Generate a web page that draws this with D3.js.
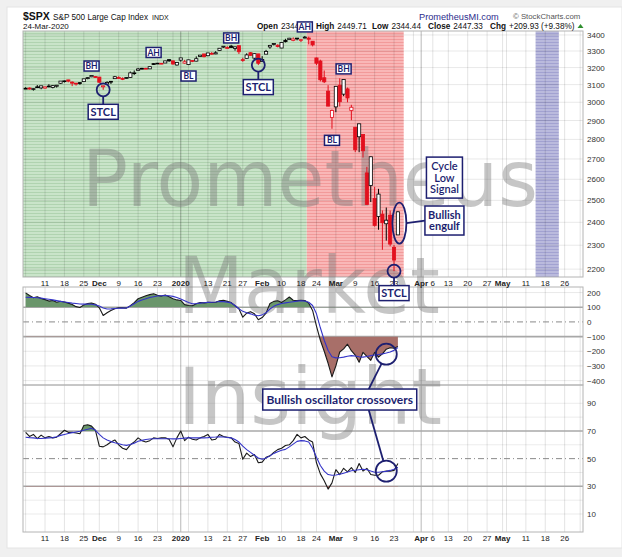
<!DOCTYPE html>
<html>
<head>
<meta charset="utf-8">
<script src="https://cdn.jsdelivr.net/npm/d3@7"></script>
<style>
  html, body { margin: 0; padding: 0; background: #f0f0f0; }
  svg { display: block; font-family: "Liberation Sans", Arial, sans-serif; }
</style>
</head>
<body>
<svg id="chart" width="622" height="557"></svg>
<script>
// ----- Calendar
const firstDay = "2019-11-04";
const axisEnd = "2020-06-01";
const holidays = ["2019-11-28", "2019-12-25", "2020-01-01", "2020-01-20",
                  "2020-02-17", "2020-04-10", "2020-05-25"];

// ----- $SPX daily bars, Nov 4 2019 .. Mar 24 2020
const open = [
  3078.96, 3080.80, 3075.10, 3087.02, 3081.25, 3080.33, 3089.28, 3084.18, 3090.75, 3107.92,
  3117.91, 3127.45, 3114.66, 3108.49, 3111.41, 3117.44, 3134.85, 3145.49, 3147.18,
  3143.85, 3087.41, 3103.50, 3119.21, 3134.62, 3141.86, 3135.36, 3135.75, 3141.23, 3166.65,
  3183.63, 3195.40, 3195.21, 3192.32, 3223.33, 3226.05, 3225.45, 3227.20, 3247.23, 3240.09, 3215.18,
  3244.67, 3226.36, 3217.55, 3241.86, 3238.59, 3266.03, 3281.81, 3271.13, 3285.35, 3282.27,
  3302.97, 3323.66, 3321.03, 3330.02, 3315.77, 3333.10, 3247.16, 3255.35, 3289.46, 3256.45, 3282.33,
  3235.66, 3280.61, 3324.91, 3344.92, 3335.54, 3318.28, 3365.87, 3370.50, 3365.90, 3378.08,
  3369.04, 3380.39, 3380.45, 3360.50, 3257.61, 3238.94, 3139.90, 3062.54, 2916.90,
  2974.28, 3096.46, 3045.75, 3075.70, 2954.20, 2863.89, 2813.48, 2825.60, 2630.86, 2569.99,
  2508.59, 2425.66, 2436.50, 2393.48, 2431.94, 2290.71, 2344.44
];
const high = [
  3085.20, 3083.95, 3078.34, 3097.77, 3093.09, 3088.33, 3102.61, 3098.06, 3098.20, 3120.46,
  3124.17, 3127.64, 3118.97, 3110.11, 3112.87, 3133.83, 3142.69, 3154.26, 3150.30,
  3144.31, 3094.97, 3119.38, 3119.45, 3150.60, 3148.87, 3142.12, 3143.98, 3176.28, 3182.68,
  3197.71, 3198.22, 3198.48, 3205.48, 3225.65, 3227.78, 3226.43, 3240.08, 3247.93, 3240.92, 3231.72,
  3258.14, 3246.15, 3246.84, 3244.91, 3267.07, 3275.58, 3282.99, 3288.13, 3294.25, 3298.66,
  3317.11, 3329.88, 3329.79, 3337.77, 3326.88, 3333.18, 3258.85, 3285.78, 3293.47, 3285.91, 3282.33,
  3268.44, 3306.92, 3337.58, 3347.96, 3341.42, 3352.26, 3375.63, 3381.47, 3385.09, 3380.69,
  3375.01, 3393.52, 3389.15, 3360.76, 3259.81, 3246.99, 3182.51, 3097.07, 2959.72,
  3090.96, 3136.72, 3130.97, 3083.04, 2985.93, 2863.89, 2882.59, 2825.60, 2660.95, 2711.33,
  2562.98, 2553.93, 2453.57, 2466.97, 2453.01, 2300.73, 2449.71
];
const low = [
  3074.87, 3072.15, 3065.89, 3080.23, 3073.58, 3075.82, 3084.73, 3078.80, 3083.26, 3104.60,
  3112.06, 3113.47, 3091.41, 3094.55, 3099.26, 3117.44, 3131.00, 3143.41, 3139.34,
  3110.78, 3070.33, 3102.53, 3103.76, 3134.62, 3135.46, 3126.09, 3133.21, 3138.47, 3156.51,
  3183.63, 3191.03, 3191.14, 3192.32, 3216.03, 3222.30, 3220.51, 3227.20, 3234.37, 3216.57, 3212.03,
  3235.53, 3222.34, 3214.64, 3232.43, 3236.67, 3263.67, 3260.86, 3268.43, 3277.19, 3280.69,
  3302.82, 3318.86, 3316.61, 3320.04, 3301.87, 3281.53, 3234.50, 3253.22, 3271.89, 3242.80, 3214.68,
  3235.66, 3280.61, 3313.75, 3334.39, 3322.12, 3317.77, 3352.72, 3369.72, 3360.52, 3366.15,
  3355.61, 3378.83, 3341.02, 3328.45, 3214.65, 3118.77, 3108.99, 2977.39, 2855.84,
  2945.19, 2976.63, 3034.38, 2999.83, 2901.54, 2734.43, 2734.00, 2707.22, 2478.86, 2492.37,
  2380.94, 2367.04, 2280.52, 2319.78, 2295.56, 2191.86, 2344.44
];
const close = [
  3078.27, 3074.62, 3076.78, 3085.18, 3093.08, 3087.01, 3091.84, 3094.04, 3096.63, 3120.46,
  3122.03, 3120.18, 3108.46, 3103.54, 3110.29, 3133.64, 3140.52, 3153.63, 3140.98,
  3113.87, 3093.20, 3112.76, 3117.43, 3145.91, 3135.96, 3132.52, 3141.63, 3168.57, 3168.80,
  3191.45, 3192.52, 3191.14, 3205.37, 3221.22, 3224.01, 3223.38, 3239.91, 3240.02, 3221.29, 3230.78,
  3257.85, 3234.85, 3246.28, 3237.18, 3253.05, 3274.70, 3265.35, 3288.13, 3283.15, 3289.29,
  3316.81, 3329.62, 3320.79, 3321.75, 3325.54, 3295.47, 3243.63, 3276.24, 3273.40, 3283.66, 3225.52,
  3248.92, 3297.59, 3334.69, 3345.78, 3327.71, 3352.09, 3357.75, 3379.45, 3373.94, 3380.16,
  3370.29, 3386.15, 3373.23, 3337.75, 3225.89, 3128.21, 3116.39, 2978.76, 2954.22,
  3090.23, 3003.37, 3130.12, 3023.94, 2972.37, 2746.56, 2882.23, 2741.38, 2480.64, 2711.02,
  2386.13, 2529.19, 2398.10, 2409.39, 2304.92, 2237.40, 2447.33
];
const prevClose = 3066.91; // Nov 1 close

// ----- Middle panel oscillator (black) and its average (blue)
const cci = [
  198, 180, 165, 172, 160,
  152, 142, 146, 134, 141, 136, 128, 118, 104, 98,
  116, 125, 129, 121, 96, 44, 62, 78, 90, 97,
  96, 94, 110, 132, 158, 168, 178, 186, 192, 182,
  176, 184, 172, 158, 150, 146, 118, 112, 110, 124,
  132, 130, 133, 132, 134, 144, 147, 140, 132, 110,
  90, 32, 60, 70, 55, 15, 30, 60, 125, 140,
  144, 132, 150, 170, 148, 145, 148, 146, 128, 78,
  -28, -125, -200, -282, -375, -300, -205, -184, -152, -196,
  -226, -275, -207, -235, -262, -208, -240, -218, -186, -176,
  -180, -168
];
const cciAvg = [
  168, 167, 166, 165, 162,
  158, 154, 150, 145, 140, 136, 132, 128, 125, 122,
  121, 121, 120, 116, 108, 95, 88, 89, 91, 93,
  94, 95, 108, 124, 140, 150, 158, 166, 172, 177,
  178, 179, 178, 174, 166, 156, 144, 132, 124, 125,
  128, 131, 133, 134, 136, 139, 138, 135, 130, 112,
  90, 72, 62, 55, 46, 42, 48, 62, 88, 106,
  118, 125, 130, 134, 138, 142, 144, 142, 134, 112,
  55, -40, -125, -195, -238, -245, -244, -240, -234, -230,
  -232, -238, -240, -236, -230, -226, -222, -218, -212, -205,
  -194, -175
];

// ----- Bottom panel oscillator (black) and its average (blue)
const rsi = [
  69, 66, 67.5, 64.5, 67,
  65, 66, 65, 65.5, 68, 70.5, 69, 69, 68.5, 68,
  74, 74.5, 73.5, 70.5, 59, 58.5, 60, 62, 63.5, 60,
  57.5, 56.5, 60, 62, 65, 63, 62, 63, 65, 64.5,
  65, 65, 64, 58.5, 65, 70, 63, 65.5, 64, 63.5,
  65, 66, 67.5, 63.5, 64, 67.5, 66, 65.5, 65, 62,
  61, 49.5, 54, 51.5, 53, 47, 47.5, 51, 52, 54.5,
  56.5, 57.5, 59.5, 60, 63, 67.5, 65, 66, 63.5, 62,
  47, 39, 34, 28, 32.5, 42, 38.5, 43, 40.5, 43.5,
  40, 46.5, 41, 43, 38.5, 38, 38, 40.5, 41, 41,
  41.5, 46.5
];
const rsiAvg = [
  65.5, 65.2, 65, 64.5, 64.6,
  64.8, 65, 65.2, 65.8, 66.8, 67.5, 68.2, 68.8, 69.3, 69.8,
  70.5, 71.2, 72, 70.5, 67.5, 65, 63.5, 62.3, 61.5, 60.8,
  60, 59.6, 60.2, 61.2, 62.5, 63.2, 63.8, 64.2, 64.4, 64.4,
  64.4, 64.4, 64.4, 64.3, 64.3, 64.6, 64.8, 65, 65, 65,
  65, 65, 65.2, 65.5, 65.6, 65.8, 65.6, 65.3, 65, 63.8,
  62, 59, 56.5, 54.5, 52.5, 50.5, 49.5, 50.5, 52, 53.8,
  55, 56, 56.7, 58.5, 60.5, 62.5, 63, 62.8, 62, 57.5,
  51, 45, 41, 38.5, 38, 38.2, 38.7, 39.5, 40.3, 41.2,
  41.6, 42, 42.3, 42, 41, 40.2, 40.2, 40.5, 40.8, 41.5,
  42.3, 43.7
];

// ----- Ticks
const priceTicks = [2200, 2300, 2400, 2500, 2600, 2700, 2800, 2900, 3000, 3100, 3200, 3300, 3400];
const cciTicks = [200, 100, 0, -100, -200, -300, -400];
const rsiTicks = [90, 70, 50, 30, 10];
const tickDates = ["2019-11-11", "2019-11-18", "2019-11-25", "2019-12-02", "2019-12-09", "2019-12-16",
  "2019-12-23", "2020-01-02", "2020-01-13", "2020-01-21", "2020-01-27", "2020-02-03", "2020-02-10",
  "2020-02-18", "2020-02-24", "2020-03-02", "2020-03-09", "2020-03-16", "2020-03-23", "2020-04-01",
  "2020-04-06", "2020-04-13", "2020-04-20", "2020-04-27", "2020-05-01", "2020-05-11", "2020-05-18",
  "2020-05-26"];
const tickLabels = ["11", "18", "25", "Dec", "9", "16", "23", "2020", "13", "21", "27", "Feb", "10",
  "18", "24", "Mar", "9", "16", "23", "Apr", "6", "13", "20", "27", "May", "11", "18", "26"];

// ----- Shaded periods
const shadeFrom = ["2019-11-04", "2020-02-20", "2020-05-14"];
const shadeTo   = ["2020-02-19", "2020-03-25", "2020-05-21"];
const shadeKind = ["green", "red", "blue"];

// ----- Annotations (anchored in data coordinates)
const tagText  = ["BH", "AH", "BL", "BH", "AH", "BL", "BH"];
const tagDate  = ["2019-11-27", "2019-12-20", "2020-01-06", "2020-01-22", "2020-02-19", "2020-02-28", "2020-03-04"];
const tagPrice = [3209, 3291, 3150, 3381, 3451, 2795, 3192];
const stclDates = ["2019-12-03", "2020-01-31", "2020-03-23"];

/***********************************************
 * Setup
 ***********************************************/
const svg = d3.select("#chart");
const navy = "#1d1f70";
const red = "#e3101e";
const annFont = "Lato, 'Open Sans', sans-serif";

const fmt = d3.timeFormat("%Y-%m-%d");
const parse = d3.timeParse("%Y-%m-%d");
const holidaySet = new Set(holidays);
const days = d3.timeDay.range(parse(firstDay), d3.timeDay.offset(parse(axisEnd), 1))
  .filter(d => d.getDay() % 6 !== 0 && !holidaySet.has(fmt(d)))
  .map(fmt);
const barDates = days.slice(0, close.length);

const P = { left: 23, right: 583 };
const main = { top: 31, bottom: 277 };
const mid = { top: 287, bottom: 385 };
const bot = { top: 385, bottom: 532 };

const x = d3.scaleBand().domain(days).range([23.7, 582.1]);
const cx = d => x(d) + x.bandwidth() / 2;
const yP = d3.scaleLog().domain([2168, 3425]).range([main.bottom, main.top]);
const yC = d3.scaleLinear().domain([-430, 238]).range([mid.bottom, mid.top]);
const yR = d3.scaleLinear().domain([-3, 103.2]).range([bot.bottom, bot.top]);

// card
svg.append("rect")
  .attr("x", 7).attr("y", 7).attr("width", 615).attr("height", 541)
  .attr("fill", "#fff").attr("stroke", "#e4e4e4");

// striped fills
const defs = svg.append("defs");
const stripes = {
  green: ["#c9e4c9", "#b0d3b0"],
  red:   ["#f9b7b7", "#f29a9a"],
  blue:  ["#babadd", "#a2a2d1"]
};
Object.entries(stripes).forEach(([k, c]) => {
  const p = defs.append("pattern").attr("id", "pat-" + k)
    .attr("width", 4).attr("height", 3).attr("patternUnits", "userSpaceOnUse");
  p.append("rect").attr("width", 4).attr("height", 3).attr("fill", c[0]);
  p.append("rect").attr("width", 4).attr("height", 1).attr("fill", c[1]);
});

/***********************************************
 * Shading + grids
 ***********************************************/
const gBack = svg.append("g");
shadeKind.forEach((k, i) => {
  const x0 = shadeFrom[i] === days[0] ? P.left : x(shadeFrom[i]);
  const x1 = x(shadeTo[i]) + x.bandwidth();
  gBack.append("rect")
    .attr("x", x0).attr("y", main.top)
    .attr("width", x1 - x0).attr("height", main.bottom - main.top)
    .attr("fill", `url(#pat-${k})`);
});

// vertical grid: first trading day of each week and month
const gridDays = days.filter((d, i) => {
  if (i === 0) return true;
  const a = parse(days[i - 1]), b = parse(d);
  return +d3.timeMonday.floor(a) !== +d3.timeMonday.floor(b) || a.getMonth() !== b.getMonth();
});
const isQuarter = d => {
  const i = days.indexOf(d), b = parse(d);
  return i > 0 && parse(days[i - 1]).getMonth() !== b.getMonth() && b.getMonth() % 3 === 0;
};
[main, mid, bot].forEach(pn => {
  gBack.append("g").selectAll("line").data(gridDays).join("line")
    .attr("x1", cx).attr("x2", cx)
    .attr("y1", pn.top).attr("y2", pn.bottom)
    .attr("stroke", d => isQuarter(d) ? "rgba(0,0,0,0.28)" : "rgba(0,0,0,0.11)")
    .attr("stroke-width", 1);
});

function hlines(data, scale, color, width, dash) {
  gBack.append("g").selectAll("line").data(data).join("line")
    .attr("x1", P.left).attr("x2", P.right)
    .attr("y1", d => scale(d)).attr("y2", d => scale(d))
    .attr("stroke", color).attr("stroke-width", width)
    .attr("stroke-dasharray", dash || null);
}
hlines(priceTicks, yP, "rgba(0,0,0,0.09)", 1);
hlines([200, -200, -300, -400], yC, "rgba(0,0,0,0.09)", 1);
hlines([100, -100], yC, "#a8a8a8", 1.6);
hlines([0], yC, "#8a8a8a", 1, "6,3,1,3");
hlines([10, 20, 40, 60, 80, 90], yR, "rgba(0,0,0,0.08)", 1);
hlines([70, 30], yR, "#a8a8a8", 1.6);
hlines([50], yR, "#8a8a8a", 1, "6,3,1,3");

// panel frames
[main, mid, bot].forEach(pn => {
  gBack.append("rect")
    .attr("x", P.left).attr("y", pn.top)
    .attr("width", P.right - P.left).attr("height", pn.bottom - pn.top)
    .attr("fill", "none").attr("stroke", "#b4b4b4");
});

/***********************************************
 * Watermark
 ***********************************************/
const wm = svg.append("g")
  .attr("font-family", "'DejaVu Sans', Verdana, sans-serif")
  .attr("font-size", 78).attr("fill", "#777").attr("fill-opacity", 0.42);
[["Prometheus", 82, 206, 456], ["Market", 178, 313, 262], ["Insight", 178, 424, 264]]
  .forEach(([t, tx, ty, len]) => {
    wm.append("text").attr("x", tx).attr("y", ty)
      .attr("textLength", len).attr("lengthAdjust", "spacingAndGlyphs").text(t);
  });

/***********************************************
 * Oscillators
 ***********************************************/
const gOsc = svg.append("g");
function clipRect(id, y0, y1) {
  defs.append("clipPath").attr("id", id).append("rect")
    .attr("x", P.left).attr("y", y0).attr("width", P.right - P.left).attr("height", y1 - y0);
}
clipRect("cciUp", mid.top, yC(100));
clipRect("cciDn", yC(-100), mid.bottom);
clipRect("rsiUp", bot.top, yR(70));
clipRect("rsiDn", yR(30), bot.bottom);

function band(values, scale, level, clip, color) {
  const area = d3.area()
    .x((d, i) => cx(barDates[i]))
    .y0(scale(level))
    .y1(d => scale(d));
  gOsc.append("path").datum(values)
    .attr("d", area).attr("fill", color)
    .attr("clip-path", `url(#${clip})`);
}
band(cci, yC, 100, "cciUp", "#6a966b");
band(cci, yC, -100, "cciDn", "#a86f69");
band(rsi, yR, 70, "rsiUp", "#6a966b");
band(rsi, yR, 30, "rsiDn", "#c0504d");

function oscLine(values, scale, color) {
  const line = d3.line().x((d, i) => cx(barDates[i])).y(d => scale(d));
  gOsc.append("path").datum(values)
    .attr("d", line).attr("fill", "none")
    .attr("stroke", color).attr("stroke-width", 1.1)
    .attr("stroke-linejoin", "round");
}
oscLine(cci, yC, "#1a1a1a");
oscLine(cciAvg, yC, "#3434c8");
oscLine(rsi, yR, "#1a1a1a");
oscLine(rsiAvg, yR, "#3434c8");

/***********************************************
 * Candles
 ***********************************************/
const bars = barDates.map((d, i) => ({
  date: d, o: open[i], h: high[i], l: low[i], c: close[i],
  prev: i === 0 ? prevClose : close[i - 1]
}));
const gCandle = svg.append("g");
const bodyW = 3.2;
const col = b => b.c >= b.prev ? "#000" : red;
gCandle.selectAll("line.wick").data(bars).join("line")
  .attr("class", "wick")
  .attr("x1", b => cx(b.date)).attr("x2", b => cx(b.date))
  .attr("y1", b => yP(b.h)).attr("y2", b => yP(b.l))
  .attr("stroke", col).attr("stroke-width", 1);
gCandle.selectAll("rect.body").data(bars).join("rect")
  .attr("class", "body")
  .attr("x", b => cx(b.date) - bodyW / 2)
  .attr("y", b => yP(Math.max(b.o, b.c)))
  .attr("width", bodyW)
  .attr("height", b => Math.max(0.8, yP(Math.min(b.o, b.c)) - yP(Math.max(b.o, b.c))))
  .attr("fill", b => b.c > b.o ? "#fff" : col(b))
  .attr("stroke", col).attr("stroke-width", 0.8);

/***********************************************
 * Axes
 ***********************************************/
function rightAxis(scale, ticks, fmtFn) {
  const g = svg.append("g")
    .attr("transform", `translate(${P.right},0)`)
    .call(d3.axisRight(scale).tickValues(ticks).tickSize(0).tickPadding(4).tickFormat(fmtFn));
  g.select(".domain").remove();
  g.selectAll("text").attr("font-size", 8).attr("fill", "#333")
    .attr("font-family", "'Liberation Sans', Arial, sans-serif");
}
rightAxis(yP, priceTicks, d3.format("d"));
rightAxis(yC, cciTicks, d3.format("d"));
rightAxis(yR, rsiTicks, d3.format("d"));

function dateAxis(y0) {
  const g = svg.append("g")
    .attr("transform", `translate(0,${y0})`)
    .call(d3.axisBottom(x).tickValues(tickDates).tickSize(0).tickPadding(3)
      .tickFormat((d, i) => tickLabels[i]));
  g.select(".domain").remove();
  g.selectAll("text")
    .attr("font-size", 8).attr("fill", "#222")
    .attr("font-family", "'Liberation Sans', Arial, sans-serif")
    .attr("font-weight", (d, i) => (isNaN(+tickLabels[i]) || tickLabels[i].length === 4) ? "bold" : null);
}
dateAxis(main.bottom);
dateAxis(bot.bottom);

/***********************************************
 * Annotations
 ***********************************************/
const gAnn = svg.append("g");
function box(bx, by, w, h, lines, fs, weight) {
  gAnn.append("rect")
    .attr("x", bx - w / 2).attr("y", by - h / 2).attr("width", w).attr("height", h)
    .attr("fill", "#fff").attr("stroke", navy).attr("stroke-width", 1.5);
  const t = gAnn.append("text").attr("text-anchor", "middle").attr("fill", navy)
    .attr("font-family", annFont).attr("font-size", fs).attr("font-weight", weight);
  const lh = fs * 1.08;
  lines.forEach((s, k) => {
    t.append("tspan").attr("x", bx)
      .attr("y", by + (k - (lines.length - 1) / 2) * lh + fs * 0.36).text(s);
  });
}
function link(x1, y1, x2, y2) {
  gAnn.append("line").attr("x1", x1).attr("y1", y1).attr("x2", x2).attr("y2", y2)
    .attr("stroke", navy).attr("stroke-width", 1.8);
}
function ring(rx0, ry0, r) {
  gAnn.append("circle").attr("cx", rx0).attr("cy", ry0).attr("r", r)
    .attr("fill", "none").attr("stroke", navy).attr("stroke-width", 1.8);
}

// STCL circles on lows with label below
stclDates.forEach(d => {
  const b = bars.find(v => v.date === d);
  const px = cx(d), py = yP(b.l), r = 6.5;
  link(px, py + r, px, py + 22 - 7.5);
  ring(px, py, r);
  box(px, py + 22, 30, 15, ["STCL"], 11, 700);
});

// BH / AH / BL tags
tagText.forEach((t, i) => box(cx(tagDate[i]), yP(tagPrice[i]), 15, 10, [t], 8.5, 700));

// Bullish engulf: ellipse round the last bar
const last = bars[bars.length - 1];
const ex = cx(last.date) + 1.5, ey = (yP(last.h) + yP(last.l)) / 2;
gAnn.append("ellipse").attr("cx", ex).attr("cy", ey).attr("rx", 7).attr("ry", 20.5)
  .attr("fill", "none").attr("stroke", navy).attr("stroke-width", 1.8);
const engX = cx("2020-04-09"), engY = yP(2408);
link(ex + 7, ey, engX - 19.5, engY);
box(engX, engY, 39, 29, ["Bullish", "engulf"], 11, 700);
box(cx("2020-04-09"), yP(2608), 36, 41, ["Cycle", "Low", "Signal"], 11, 600);

// Oscillator crossovers
const crossDate = "2020-03-19";
const c1 = { x: cx(crossDate), y: yC(-220) };
const c2 = { x: cx(crossDate), y: yR(41) };
const bxX = cx("2020-03-03"), bxY = yR(92.7);
const rr = 10.5;
function toward(from, to, r) {
  const dx = from.x - to.x, dy = from.y - to.y, len = Math.hypot(dx, dy);
  return { x: to.x + dx / len * r, y: to.y + dy / len * r };
}
const a1 = { x: bxX + 29, y: bxY - 10.5 }, a2 = { x: bxX + 29, y: bxY + 10.5 };
const e1 = toward(a1, c1, rr), e2 = toward(a2, c2, rr);
link(a1.x, a1.y, e1.x, e1.y);
link(a2.x, a2.y, e2.x, e2.y);
ring(c1.x, c1.y, rr);
ring(c2.x, c2.y, rr);
box(bxX, bxY, 154, 21, ["Bullish oscillator crossovers"], 12, 700);

/***********************************************
 * Header
 ***********************************************/
const gHead = svg.append("g").attr("fill", "#111");
gHead.append("text").attr("x", 23).attr("y", 19.5)
  .attr("font-size", 10.5).attr("font-weight", "bold").text("$SPX");
gHead.append("text").attr("x", 53).attr("y", 19.5).attr("font-size", 8.2)
  .text("S&P 500 Large Cap Index");
gHead.append("text").attr("x", 152).attr("y", 19.5).attr("font-size", 7).text("INDX");
gHead.append("text").attr("x", 23).attr("y", 28.5).attr("font-size", 8).text("24-Mar-2020");

const quote = [["Open", "2344.44", 257], ["High", "2449.71", 316], ["Low", "2344.44", 372],
               ["Close", "2447.33", 428], ["Chg", "+209.93 (+9.38%)", 490]];
const qt = gHead.insert("text", ":first-child").attr("y", 28.5).attr("font-size", 8.2);
quote.forEach(([k, v, qx]) => {
  qt.append("tspan").attr("x", qx).attr("font-weight", "bold").text(k);
  qt.append("tspan").attr("dx", 3).text(v);
});
gHead.append("path").attr("d", "M577.5,28 L583.5,28 L580.5,24 Z").attr("fill", "#2f8f2f");

gHead.append("text").attr("x", 419).attr("y", 19.5).attr("font-size", 9.2)
  .attr("fill", "#2c2c8c").text("PrometheusMI.com");
gHead.append("text").attr("x", 513).attr("y", 19.3).attr("font-size", 7.8)
  .attr("fill", "#555").text("\u00a9 StockCharts.com");

// keep the top AH tag above the quote line
gAnn.raise();
</script>
</body>
</html>
